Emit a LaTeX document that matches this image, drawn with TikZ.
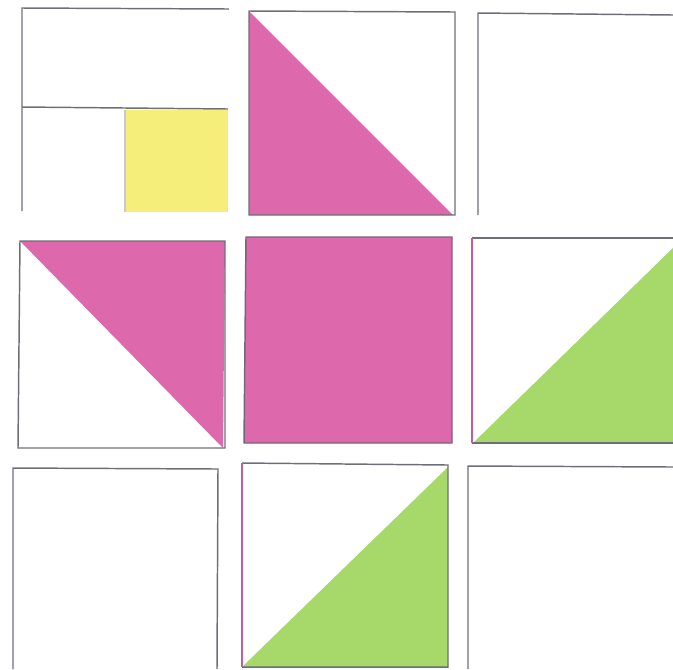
\documentclass[tikz,border=0pt]{standalone}
\tikzset{every picture/.style={line width=1.1pt}}
\begin{document}
\begin{tikzpicture}[x=0.75pt,y=0.75pt,yscale=-1,xscale=1]
%set diagram left start at 0, and has height of 669
\path [use as bounding box] (0,0) rectangle (673,669);

%Shape: Square [id:dp1] 
\draw  [draw opacity=0][fill={rgb, 255:red, 245; green, 238; blue, 122 }  ,fill opacity=1 ] (125,110) -- (228,110) -- (228,212) -- (125,212) -- cycle ;
%Straight Lines [id:da1] 
\draw  [color={rgb, 255:red, 200; green, 200; blue, 205 }  ,draw opacity=1 ] (125,110) -- (125,212) ;
%Straight Lines [id:da2] 
\draw  [color={rgb, 255:red, 110; green, 110; blue, 120 }  ,draw opacity=1 ] (22,211) -- (22,8) -- (229,9) ;
%Straight Lines [id:da3] 
\draw  [color={rgb, 255:red, 110; green, 110; blue, 120 }  ,draw opacity=1 ] (22,107) -- (228,109) ;

%Right Triangle [id:dp2] 
\draw  [draw opacity=0][fill={rgb, 255:red, 222; green, 104; blue, 172 }  ,fill opacity=1 ] (249,11) -- (453,215) -- (249,215) -- cycle ;
%Shape: Square [id:dp3] 
\draw  [color={rgb, 255:red, 110; green, 110; blue, 120 }  ,draw opacity=1 ] (249,11) -- (455,12) -- (455,215) -- (249,215) -- cycle ;

%Straight Lines [id:da4] 
\draw  [color={rgb, 255:red, 110; green, 110; blue, 120 }  ,draw opacity=1 ] (478,215) -- (478,13) -- (673,15) ;

%Right Triangle [id:dp4] 
\draw  [draw opacity=0][fill={rgb, 255:red, 222; green, 104; blue, 172 }  ,fill opacity=1 ] (20,241) -- (225,241) -- (223,448) -- cycle ;
%Shape: Square [id:dp5] 
\draw  [color={rgb, 255:red, 110; green, 110; blue, 120 }  ,draw opacity=1 ] (20,241) -- (225,241) -- (225,448) -- (18,448) -- cycle ;

%Shape: Square [id:dp6] 
\draw  [color={rgb, 255:red, 120; green, 100; blue, 120 }  ,draw opacity=1 ][fill={rgb, 255:red, 222; green, 104; blue, 172 }  ,fill opacity=1 ] (246,237) -- (452,237) -- (452,443) -- (244,443) -- cycle ;

%Right Triangle [id:dp7] 
\draw  [draw opacity=0][fill={rgb, 255:red, 166; green, 216; blue, 106 }  ,fill opacity=1 ] (473,443) -- (678,243) -- (678,443) -- cycle ;
%Straight Lines [id:da5] 
\draw  [color={rgb, 255:red, 110; green, 110; blue, 120 }  ,draw opacity=1 ] (673,238) -- (472,238) ;
\draw  [color={rgb, 255:red, 110; green, 110; blue, 120 }  ,draw opacity=1 ] (472,443) -- (673,443) ;
\draw  [color={rgb, 255:red, 196; green, 90; blue, 170 }  ,draw opacity=1 ] (472,238) -- (472,443) ;

%Straight Lines [id:da6] 
\draw  [color={rgb, 255:red, 110; green, 110; blue, 120 }  ,draw opacity=1 ] (13,669) -- (13,468) -- (218,469) -- (217,669) ;

%Right Triangle [id:dp8] 
\draw  [draw opacity=0][fill={rgb, 255:red, 166; green, 216; blue, 106 }  ,fill opacity=1 ] (242,667) -- (448,467) -- (448,667) -- cycle ;
%Shape: Square [id:dp9] 
\draw  [color={rgb, 255:red, 110; green, 110; blue, 120 }  ,draw opacity=1 ] (242,463) -- (448,465) -- (448,667) -- (242,667) ;
\draw  [color={rgb, 255:red, 196; green, 90; blue, 170 }  ,draw opacity=1 ] (242,463) -- (242,667) ;

%Straight Lines [id:da7] 
\draw  [color={rgb, 255:red, 110; green, 110; blue, 120 }  ,draw opacity=1 ] (468,669) -- (468,466) -- (673,467) ;

\end{tikzpicture}
\end{document}
